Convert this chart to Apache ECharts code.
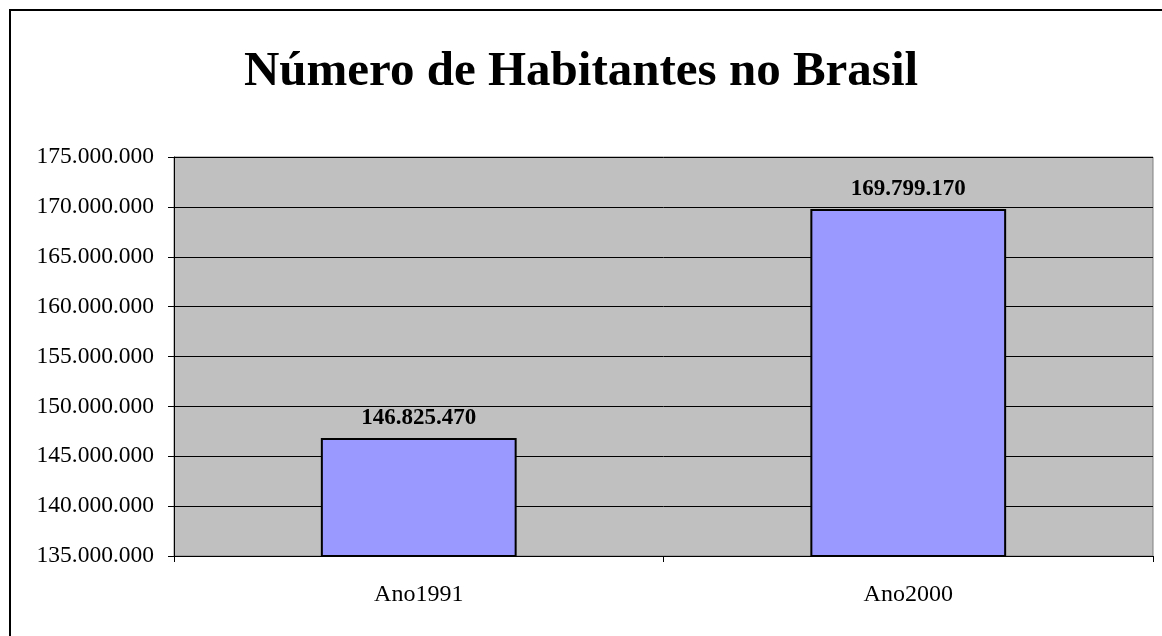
<!DOCTYPE html>
<html>
<head>
<meta charset="utf-8">
<script src="https://cdn.jsdelivr.net/npm/echarts@6/dist/echarts.min.js"></script>
<style>
html, body {margin: 0; padding: 0; background: #fff;}
#chartmain {width: 1162px; height: 636px;}
</style>
</head>
<body>
<div id="chartmain"></div>
<script>
// dados do gráfico
var anos = ['Ano1991', 'Ano2000'];
var habitantes = [146825470, 169799170];
var eixoMin = 135000000;
var eixoMax = 175000000;
var eixoPasso = 5000000;

// formata 175000000 -> 175.000.000
function milhar(v) {
    return String(v).replace(/\B(?=(\d{3})+(?!\d))/g, '.');
}

var fonte = '"Liberation Serif", "Times New Roman", serif';
var myChart = echarts.init(document.getElementById('chartmain'));
myChart.setOption({
    animation: false,
    backgroundColor: '#fff',
    title: {
        text: 'Número de Habitantes no Brasil',
        left: 'center',
        top: 43,
        textStyle: {fontFamily: fonte, fontSize: 49, fontWeight: 'bold', color: '#000'}
    },
    graphic: [{
        type: 'rect',
        shape: {x: 10, y: 10, width: 1170, height: 650},
        style: {fill: 'none', stroke: '#000', lineWidth: 2},
        silent: true
    }],
    grid: {
        left: 174, right: 9, top: 157, bottom: 80,
        show: true, backgroundColor: '#c0c0c0', borderColor: '#808080', borderWidth: 1
    },
    xAxis: {
        type: 'category',
        data: anos,
        axisLine: {lineStyle: {color: '#000', width: 1}},
        axisTick: {show: true, length: 6, lineStyle: {color: '#000'}},
        axisLabel: {fontFamily: fonte, fontSize: 24, color: '#000', margin: 27}
    },
    yAxis: {
        type: 'value',
        min: eixoMin, max: eixoMax, interval: eixoPasso,
        axisLine: {show: true, lineStyle: {color: '#000', width: 1}},
        axisTick: {show: true, length: 6, lineStyle: {color: '#000'}},
        splitLine: {show: true, lineStyle: {color: '#000', width: 1}},
        axisLabel: {fontFamily: fonte, fontSize: 23.5, color: '#000', margin: 20,
            formatter: function (v) { return milhar(v); }}
    },
    series: [{
        type: 'bar',
        data: habitantes,
        barWidth: '40%',
        itemStyle: {color: '#9999ff', borderColor: '#000', borderWidth: 2},
        label: {
            show: true, position: 'top', distance: 8,
            fontFamily: fonte, fontSize: 23, fontWeight: 'bold', color: '#000',
            formatter: function (p) { return milhar(p.value); }
        }
    }]
});
</script>
</body>
</html>
